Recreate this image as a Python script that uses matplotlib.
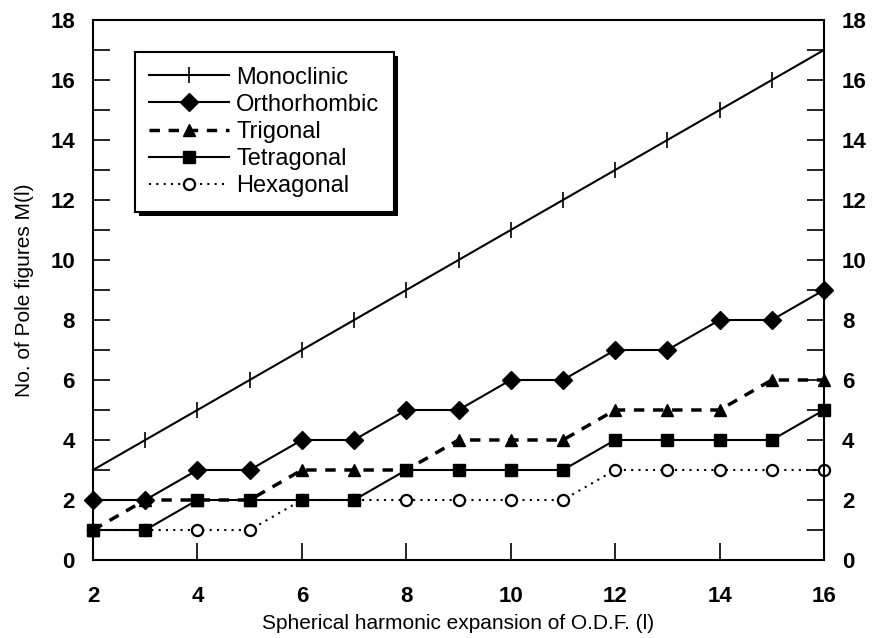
import matplotlib.pyplot as plt
from matplotlib.ticker import MultipleLocator
from matplotlib.patches import Rectangle

plt.rcParams['font.family'] = ['Liberation Sans', 'DejaVu Sans']

l_vals = list(range(2, 17))
monoclinic = [3, 4, 5, 6, 7, 8, 9, 10, 11, 12, 13, 14, 15, 16, 17]
orthorhombic = [2, 2, 3, 3, 4, 4, 5, 5, 6, 6, 7, 7, 8, 8, 9]
trigonal = [1, 2, 2, 2, 3, 3, 3, 4, 4, 4, 5, 5, 5, 6, 6]
tetragonal = [1, 1, 2, 2, 2, 2, 3, 3, 3, 3, 4, 4, 4, 4, 5]
hexagonal = [1, 1, 1, 1, 2, 2, 2, 2, 2, 2, 3, 3, 3, 3, 3]

fig = plt.figure(figsize=(8.74, 6.38), dpi=100)
ax = fig.add_axes([93/874, 78/638, 731/874, 540/638])

ax.plot(l_vals, monoclinic, color='black', lw=1.5, marker='|', ms=12, mew=1.2,
        label='Monoclinic', clip_on=False, zorder=3)
ax.plot(l_vals, orthorhombic, color='black', lw=1.5, marker='D', ms=9,
        label='Orthorhombic', clip_on=False, zorder=3)
ax.plot(l_vals, hexagonal, color='black', lw=1.5, ls=(0, (1, 2.5)), marker='o', ms=8,
        mfc='white', mew=1.6, label='Hexagonal', clip_on=False, zorder=2)
ax.plot(l_vals, trigonal, color='black', lw=2.5, ls=(0, (3, 2.5)), marker='^', ms=8,
        label='Trigonal', clip_on=False, zorder=3)
ax.plot(l_vals, tetragonal, color='black', lw=1.5, marker='s', ms=8,
        label='Tetragonal', clip_on=False, zorder=4)

ax.set_xlim(2, 16)
ax.set_ylim(0, 18)
ax.xaxis.set_major_locator(MultipleLocator(2))
ax.yaxis.set_major_locator(MultipleLocator(2))
ax.yaxis.set_minor_locator(MultipleLocator(1))
ax.tick_params(axis='both', which='both', direction='in', labelsize=16)
ax.tick_params(axis='y', which='both', left=True, right=True, labelleft=True,
               labelright=True, length=12, width=1.2, pad=13)
ax.tick_params(axis='x', which='major', length=12, width=1.2, pad=19)
for lab in ax.get_xticklabels() + ax.get_yticklabels():
    lab.set_fontweight('bold')
for s in ax.spines.values():
    s.set_linewidth(1.5)

ax.set_xlabel('Spherical harmonic expansion of O.D.F. (l)', fontsize=15, labelpad=5)
ax.set_ylabel('No. of Pole figures M(l)', fontsize=15, labelpad=12)

h, l = ax.get_legend_handles_labels()
order = [0, 1, 3, 4, 2]
leg = ax.legend([h[i] for i in order], [l[i] for i in order], loc='upper left',
                bbox_to_anchor=(0.057, 0.94), borderaxespad=0, fontsize=17,
                frameon=True, fancybox=False, framealpha=1, handlelength=3.4,
                handletextpad=0.3, labelspacing=0.22, borderpad=0.6)
leg.get_frame().set_edgecolor('black')
leg.get_frame().set_linewidth(1.5)

# heavy drop shadow behind the legend box
fig.canvas.draw()
bb = leg.get_window_extent().transformed(ax.transAxes.inverted())
dx = 4 / 731
dy = 4 / 540
ax.add_patch(Rectangle((bb.x0 + dx, bb.y0 - dy), bb.width, bb.height,
                       transform=ax.transAxes, facecolor='black', edgecolor='none',
                       zorder=4.9))

plt.savefig('out.png')
